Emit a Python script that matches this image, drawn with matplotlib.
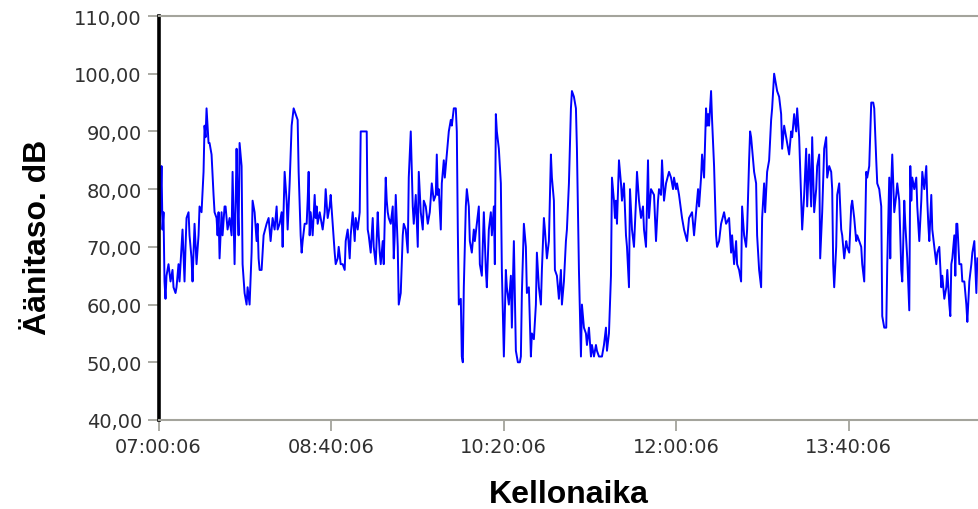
import numpy as np
import pandas as pd
import matplotlib
matplotlib.use('Agg')
import matplotlib.pyplot as plt
import matplotlib.dates as mdates
from matplotlib.ticker import FuncFormatter

# ---- data: sound level log, one reading per ~34.8 s from 07:00:06 ----
start_time = '2000-01-01 07:00:06'
log_step_s = 34.8
end_time = '2000-01-01 14:55:30'

sample_no = [
    1, 2, 3, 4, 5, 6, 7, 8, 10, 12, 14, 15, 17, 18, 20, 21, 23, 24, 26, 27, 28, 30, 31, 33, 34, 36, 38, 40,
    41, 43, 45, 46, 47, 48, 50, 51, 53, 55, 56, 58, 59, 60, 61, 63, 64, 66, 67, 69, 71, 73, 74, 76, 78, 79,
    80, 81, 83, 84, 86, 88, 89, 91, 93, 94, 96, 98, 99, 100, 101, 103, 105, 108, 110, 112, 114, 116, 118,
    119, 121, 123, 124, 126, 128, 129, 131, 133, 135, 137, 139, 140, 142, 143, 144, 146, 148, 149, 150,
    151, 152, 154, 156, 157, 158, 159, 161, 162, 164, 166, 167, 169, 171, 172, 174, 176, 177, 179, 180,
    182, 184, 186, 187, 189, 191, 192, 194, 196, 197, 199, 201, 202, 205, 208, 209, 210, 212, 214, 215,
    217, 219, 220, 221, 222, 224, 225, 227, 228, 229, 230, 232, 234, 235, 236, 237, 239, 240, 242, 244,
    245, 247, 249, 250, 252, 254, 255, 257, 259, 260, 262, 264, 265, 267, 269, 271, 273, 275, 277, 278,
    279, 280, 282, 283, 285, 286, 288, 290, 292, 293, 295, 297, 298, 299, 300, 302, 303, 304, 305, 307,
    308, 310, 311, 313, 315, 316, 318, 320, 321, 323, 325, 327, 328, 330, 332, 333, 335, 336, 337, 338,
    340, 342, 343, 345, 347, 348, 350, 352, 353, 355, 357, 359, 361, 362, 363, 365, 367, 368, 370, 371,
    372, 373, 375, 377, 378, 380, 382, 383, 385, 386, 388, 390, 392, 393, 395, 396, 398, 400, 402, 403,
    405, 407, 408, 410, 412, 413, 415, 417, 418, 420, 422, 423, 425, 427, 428, 430, 432, 433, 435, 437,
    438, 440, 443, 445, 447, 448, 450, 452, 453, 455, 456, 457, 458, 460, 462, 463, 465, 467, 468, 470,
    471, 473, 475, 477, 478, 480, 482, 484, 485, 487, 489, 490, 492, 495, 497, 499, 500, 502, 503, 505,
    507, 510, 512, 514, 515, 517, 518, 520, 523, 525, 528, 530, 533, 535, 537, 539, 540, 542, 543, 545,
    547, 548, 549, 550, 552, 553, 555, 557, 558, 560, 562, 565, 567, 570, 572, 573, 575, 577, 578, 580,
    582, 583, 585, 587, 588, 590, 591, 592, 593, 595, 597, 598, 600, 602, 603, 605, 606, 608, 610, 612,
    613, 615, 617, 618, 620, 622, 623, 625, 627, 628, 630, 632, 633, 635, 637, 638, 640, 642, 643, 645,
    647, 648, 650, 652, 653, 655, 657, 658, 660, 661, 663, 665, 667, 668, 670, 672, 673, 674, 675, 677,
    678, 680, 682, 683, 685, 687, 688, 690, 692, 693, 695, 697, 698, 700, 702, 703, 705, 707, 708, 710,
    712, 714, 715, 717, 718, 720, 722, 723, 725, 727, 728, 730, 731, 732, 733, 735, 737, 738, 740, 742,
    743, 745, 746, 747, 748, 750, 751, 752, 753, 755, 757, 758, 760, 762, 763, 765, 767, 768, 769, 770,
    772, 773, 775, 777, 778, 780, 782, 783, 785, 787, 788, 790, 791, 792, 793, 795, 796, 797, 798, 800,
    802, 803, 805, 807, 808, 810, 812, 813, 815, 817, 818,
]

level_db = [
    73, 77, 84, 73, 76, 64, 61, 65, 67, 64, 66, 63, 62, 63, 67, 64, 70, 73, 64, 70, 75, 76, 72, 68, 64, 74, 67, 72,
    77, 76, 83, 91, 89, 94, 88, 88, 86, 79, 76, 75, 72, 76, 68, 76, 72, 77, 77, 73, 75, 72, 83, 67, 87, 78,
    72, 88, 84, 67, 62, 60, 63, 60, 69, 78, 76, 71, 74, 68, 66, 66, 72, 74, 75, 71, 75, 73, 77,
    73, 74, 76, 70, 83, 78, 73, 81, 91, 94, 93, 92, 83, 72, 69, 71, 74, 74, 78, 83,
    72, 76, 72, 79, 75, 77, 74, 76, 75, 73, 76, 80, 75, 77, 79, 74, 69, 67, 68, 70,
    67, 67, 66, 71, 73, 68, 72, 76, 71, 75, 73, 76, 90, 90, 90, 73, 72, 69, 75, 70,
    67, 76, 72, 69, 67, 71, 67, 82, 78, 76, 75, 74, 77, 68, 72, 79, 70, 60, 62, 72,
    74, 73, 69, 82, 90, 77, 74, 79, 70, 83, 76, 73, 78, 77, 74, 76, 81, 78, 79, 86,
    79, 80, 73, 81, 85, 82, 86, 90, 92, 91, 94, 94, 90, 73, 60, 61, 51, 50, 63, 77,
    80, 77, 71, 69, 73, 71, 74, 77, 67, 65, 76, 66, 63, 73, 76, 72, 77, 67, 93, 90,
    87, 81, 66, 51, 66, 63, 60, 65, 56, 71, 52, 50, 50, 51, 62, 74, 70, 62, 63, 57,
    51, 55, 54, 60, 69, 63, 60, 66, 75, 73, 68, 71, 86, 82, 78, 66, 65, 61, 66, 60,
    64, 71, 73, 81, 94, 97, 96, 94, 87, 66, 51, 60, 56, 55, 53, 56, 51, 53, 51, 53,
    52, 51, 51, 53, 56, 52, 55, 65, 82, 78, 75, 78, 74, 85, 81, 78, 81, 72, 70, 63,
    80, 73, 70, 78, 83, 78, 75, 77, 73, 70, 85, 75, 80, 79, 71, 78, 80, 79, 85, 78,
    81, 83, 82, 80, 82, 80, 81, 79, 75, 73, 71, 75, 76, 72, 76, 80, 77, 82, 86, 82,
    94, 91, 93, 91, 97, 92, 84, 72, 70, 71, 74, 76, 74, 75, 69, 72, 67, 71, 67, 66,
    64, 77, 72, 70, 73, 85, 90, 89, 87, 83, 81, 72, 66, 63, 75, 81, 76, 83, 85, 92,
    94, 100, 98, 97, 96, 93, 87, 91, 89, 88, 86, 90, 89, 93, 90, 94, 89, 78, 73, 79,
    87, 77, 86, 77, 89, 76, 80, 84, 86, 68, 76, 87, 89, 82, 84, 83, 80, 67, 63, 70,
    79, 81, 73, 72, 68, 71, 70, 69, 77, 78, 75, 71, 72, 71, 70, 67, 64, 83, 82, 84,
    95, 95, 94, 85, 81, 80, 77, 58, 56, 56, 67, 82, 68, 81, 86, 76, 79, 81, 78, 66,
    64, 78, 74, 71, 68, 59, 84, 78, 82, 80, 82, 77, 71, 78, 83, 80, 84, 78, 74, 71,
    79, 73, 70, 67, 69, 70, 63, 65, 61, 63, 66, 60, 58, 67, 68, 72, 65, 74, 74, 67,
    67, 64, 64, 60, 57, 64, 67, 69, 71, 62, 68,
]

y_ticks = [40, 50, 60, 70, 80, 90, 100, 110]
x_tick_labels = ['07:00:06', '08:40:06', '10:20:06', '12:00:06', '13:40:06']

# ---- build time axis ----
t0 = pd.Timestamp(start_time)
times = t0 + pd.to_timedelta(np.array(sample_no) * log_step_s, unit='s')
x_ticks = [pd.Timestamp('2000-01-01 ' + s) for s in x_tick_labels]

grey = '#a4a49c'
txt = '#303030'

fig = plt.figure(figsize=(9.79, 5.10), dpi=100)
ax = fig.add_axes([158.5 / 979, 89 / 510, (979 - 158.5) / 979, 404 / 510])

ax.plot(times, level_db, color='#0000ff', lw=1.4)

ax.set_ylim(40, 110)
ax.set_xlim(t0, pd.Timestamp(end_time))
ax.set_yticks(y_ticks)
ax.yaxis.set_major_formatter(FuncFormatter(lambda v, p: f'{v:.2f}'.replace('.', ',')))
ax.set_xticks(x_ticks)
ax.xaxis.set_major_formatter(mdates.DateFormatter('%H:%M:%S'))

for s in ['top', 'bottom']:
    ax.spines[s].set_color(grey)
    ax.spines[s].set_linewidth(1.5)
ax.spines['right'].set_visible(False)
ax.spines['left'].set_color('black')
ax.spines['left'].set_linewidth(2.6)

ax.tick_params(axis='both', direction='out', length=8, width=1.3, color=grey,
               labelsize=14, labelcolor=txt, pad=4)
for lab in ax.get_xticklabels() + ax.get_yticklabels():
    lab.set_family('DejaVu Sans')

fig.text(38 / 979, 1 - 237 / 510, 'Äänitaso. dB', rotation=90, ha='center', va='center',
         fontsize=23, fontweight='bold', family='Liberation Sans')
fig.text(569 / 979, 1 - 495 / 510, 'Kellonaika', ha='center', va='center',
         fontsize=23, fontweight='bold', family='Liberation Sans')

plt.savefig('out.png', dpi=100, facecolor='w')
